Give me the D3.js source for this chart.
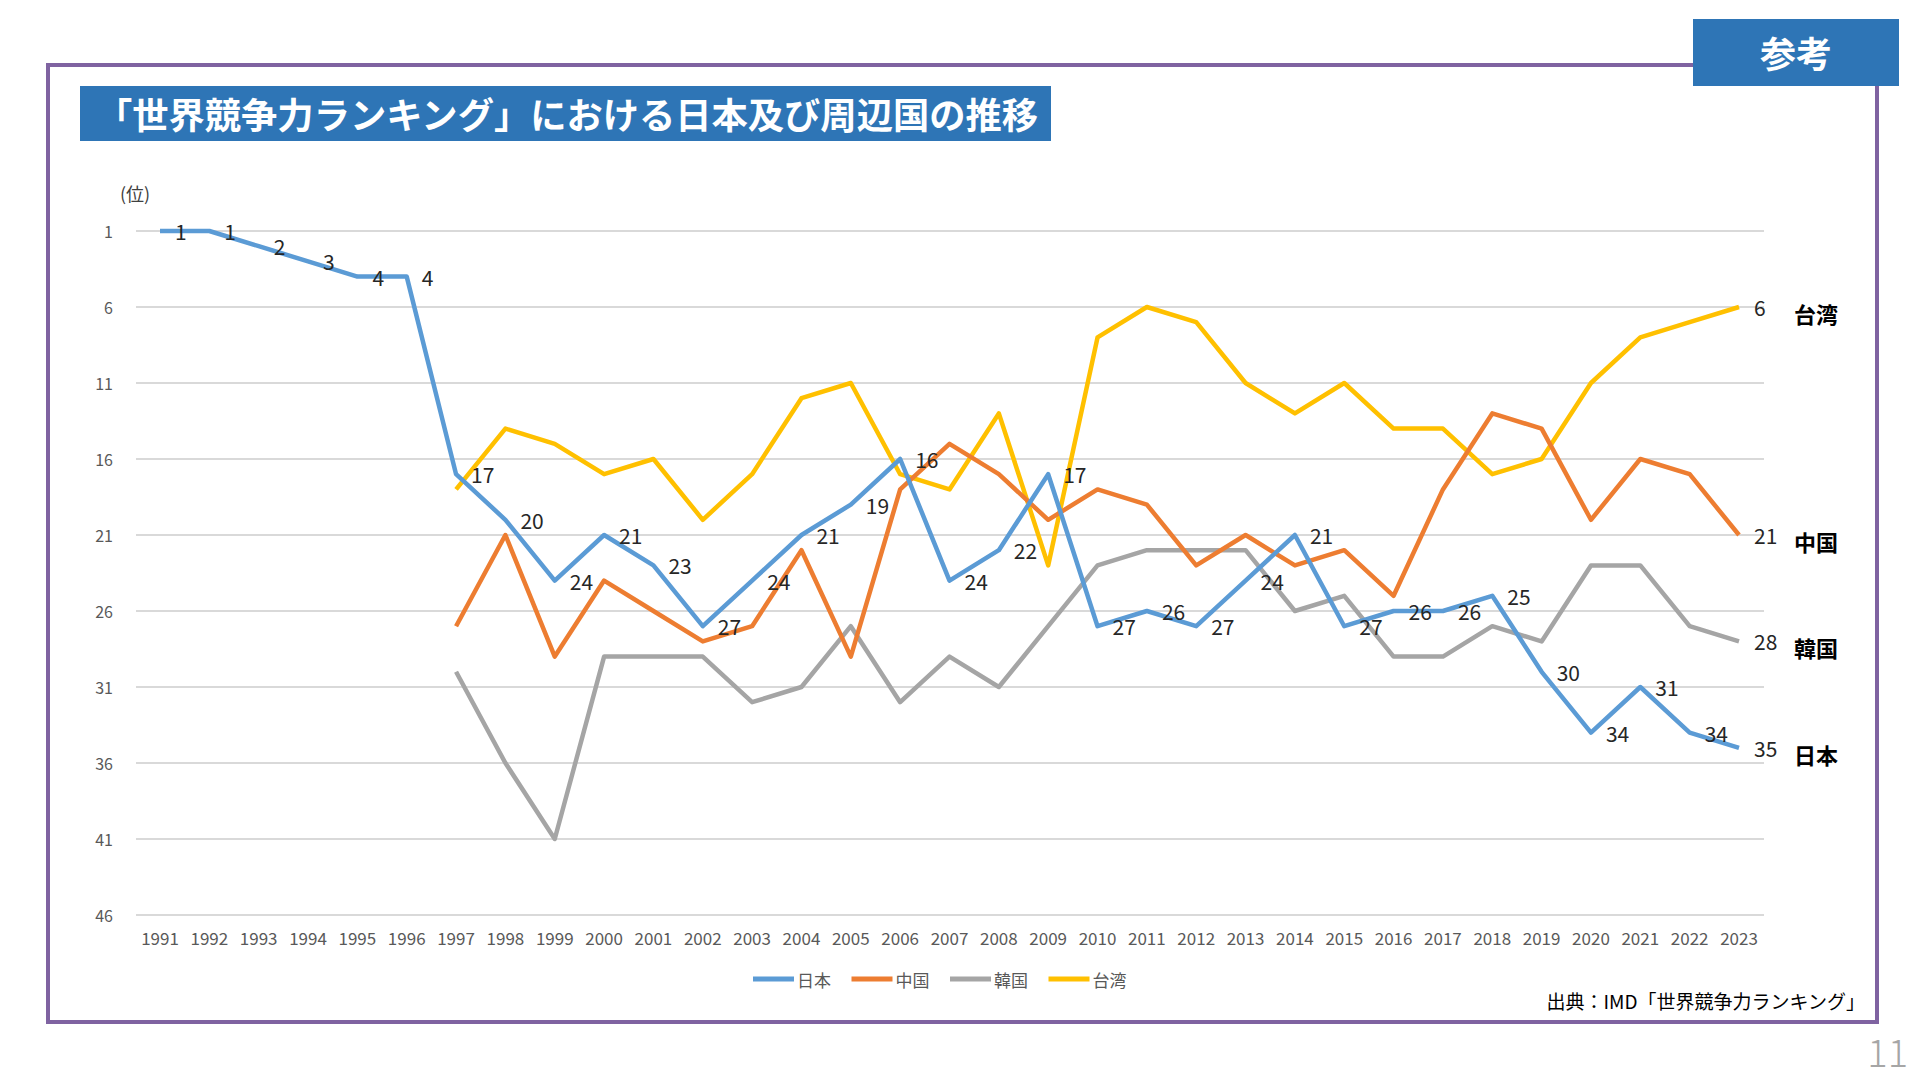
<!DOCTYPE html>
<html>
<head>
<meta charset="utf-8">
<script src="https://cdn.jsdelivr.net/npm/d3@7"></script>
<style>
  body { margin: 0; background: #fff; }
  svg { display: block; font-family: "Noto Sans CJK JP", "Noto Sans", sans-serif; }
</style>
</head>
<body>
<svg id="chart"></svg>
<script>
// IMD world competitiveness ranking, 1991-2023
const years = d3.range(1991, 2024)
const yTicks = [1, 6, 11, 16, 21, 26, 31, 36, 41, 46]

// null = not ranked yet
const japan  = [1, 1, 2, 3, 4, 4, 17, 20, 24, 21, 23, 27, 24, 21, 19, 16, 24, 22, 17, 27, 26, 27, 24, 21, 27, 26, 26, 25, 30, 34, 31, 34, 35]
const china  = [null, null, null, null, null, null, 27, 21, 29, 24, 26, 28, 27, 22, 29, 18, 15, 17, 20, 18, 19, 23, 21, 23, 22, 25, 18, 13, 14, 20, 16, 17, 21]
const korea  = [null, null, null, null, null, null, 30, 36, 41, 29, 29, 29, 32, 31, 27, 32, 29, 31, 27, 23, 22, 22, 22, 26, 25, 29, 29, 27, 28, 23, 23, 27, 28]
const taiwan = [null, null, null, null, null, null, 18, 14, 15, 17, 16, 20, 17, 12, 11, 17, 18, 13, 23, 8, 6, 7, 11, 13, 11, 14, 14, 17, 16, 11, 8, 7, 6]

const seriesNames = ['日本', '中国', '韓国', '台湾']
const colors = ['#5B9BD5', '#ED7D31', '#A5A5A5', '#FFC000']

const width = 1920
const height = 1080

const series = [japan, china, korea, taiwan].map((vals, i) => ({
  name: seriesNames[i],
  color: colors[i],
  values: vals.map((v, j) => ({year: years[j], rank: v})),
  allLabels: i === 0
}))

const svg = d3.select('#chart')
  .attr('width', width)
  .attr('height', height)

const x = d3.scalePoint()
  .domain(years)
  .range([160, 1739])
const y = d3.scaleLinear()
  .domain([1, 46])
  .range([231, 915])

// outer frame
svg.append('rect')
  .attr('x', 48).attr('y', 65)
  .attr('width', 1829).attr('height', 957)
  .attr('fill', 'none')
  .attr('stroke', '#7F63A1')
  .attr('stroke-width', 4)

// "参考" tag
svg.append('rect')
  .attr('x', 1693).attr('y', 19)
  .attr('width', 206).attr('height', 67)
  .attr('fill', '#2E75B6')
svg.append('text')
  .attr('x', 1796).attr('y', 52)
  .attr('text-anchor', 'middle')
  .attr('dominant-baseline', 'central')
  .attr('fill', '#fff')
  .attr('font-size', 36)
  .attr('font-weight', 700)
  .text('参考')

// title
svg.append('rect')
  .attr('x', 80).attr('y', 86)
  .attr('width', 971).attr('height', 55)
  .attr('fill', '#2E75B6')
svg.append('text')
  .attr('x', 96).attr('y', 113)
  .attr('dominant-baseline', 'central')
  .attr('fill', '#fff')
  .attr('font-size', 36)
  .attr('font-weight', 700)
  .attr('textLength', 942)
  .attr('lengthAdjust', 'spacingAndGlyphs')
  .text('「世界競争力ランキング」における日本及び周辺国の推移')

// gridlines + y axis
const grid = svg.append('g')
grid.selectAll('line')
  .data(yTicks)
  .join('line')
    .attr('x1', 136).attr('x2', 1764)
    .attr('y1', d => y(d)).attr('y2', d => y(d))
    .attr('stroke', '#D9D9D9')
    .attr('stroke-width', 2)
grid.selectAll('text')
  .data(yTicks)
  .join('text')
    .attr('x', 113)
    .attr('y', d => y(d))
    .attr('text-anchor', 'end')
    .attr('dominant-baseline', 'central')
    .attr('fill', '#595959')
    .attr('font-size', 16)
    .text(d => d)

svg.append('text')
  .attr('x', 120).attr('y', 193)
  .attr('dominant-baseline', 'central')
  .attr('fill', '#404040')
  .attr('font-size', 18)
  .text('(位)')

// x axis labels
svg.append('g')
  .selectAll('text')
  .data(years)
  .join('text')
    .attr('x', d => x(d))
    .attr('y', 937)
    .attr('text-anchor', 'middle')
    .attr('dominant-baseline', 'central')
    .attr('fill', '#595959')
    .attr('font-size', 17)
    .text(d => d)

// lines
const line = d3.line()
  .defined(d => d.rank !== null)
  .x(d => x(d.year))
  .y(d => y(d.rank))

svg.append('g')
  .selectAll('path')
  .data(series.slice().reverse())
  .join('path')
    .attr('d', d => line(d.values))
    .attr('fill', 'none')
    .attr('stroke', d => d.color)
    .attr('stroke-width', 4.5)
    .attr('stroke-linejoin', 'round')

// data labels: every year for Japan, last year only for the others
series.forEach(s => {
  let pts = s.values.filter(d => d.rank !== null)
  if (!s.allLabels) pts = pts.slice(-1)
  svg.append('g')
    .selectAll('text')
    .data(pts)
    .join('text')
      .attr('x', d => x(d.year) + 15)
      .attr('y', d => y(d.rank))
      .attr('dominant-baseline', 'central')
      .attr('fill', '#262626')
      .attr('font-size', 21)
      .text(d => d.rank)

  let last = pts[pts.length - 1]
  svg.append('text')
    .attr('x', 1794)
    .attr('y', y(last.rank) + 6)
    .attr('dominant-baseline', 'central')
    .attr('fill', '#000')
    .attr('font-size', 22)
    .attr('font-weight', 700)
    .text(s.name)
})

// legend
const legend = svg.append('g')
  .selectAll('g')
  .data(series)
  .join('g')
    .attr('transform', (d, i) => `translate(${753 + i * 98.5}, 979)`)
legend.append('line')
  .attr('x1', 0).attr('x2', 41)
  .attr('stroke', d => d.color)
  .attr('stroke-width', 5)
legend.append('text')
  .attr('x', 44)
  .attr('dominant-baseline', 'central')
  .attr('fill', '#595959')
  .attr('font-size', 17)
  .text(d => d.name)

// source + page number
svg.append('text')
  .attr('x', 1865).attr('y', 1000)
  .attr('text-anchor', 'end')
  .attr('dominant-baseline', 'central')
  .attr('fill', '#000')
  .attr('font-size', 19)
  .text('出典：IMD「世界競争力ランキング」')

svg.append('text')
  .attr('x', 1908).attr('y', 1050)
  .attr('text-anchor', 'end')
  .attr('dominant-baseline', 'central')
  .attr('fill', '#A6A6A6')
  .attr('font-size', 38)
  .attr('font-weight', 300)
  .text('11')
</script>
</body>
</html>
